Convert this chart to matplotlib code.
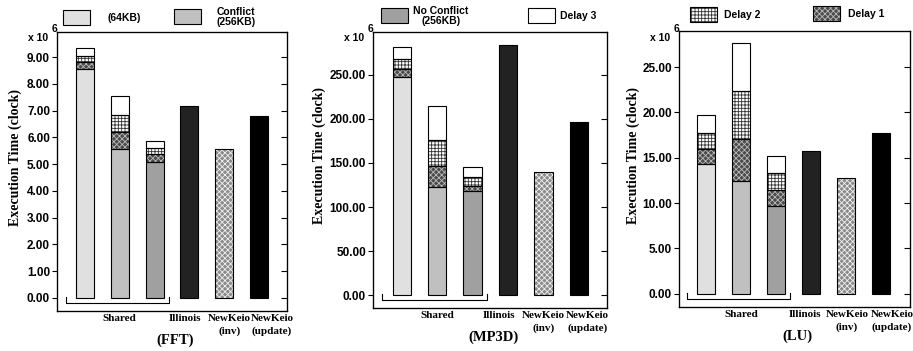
import numpy as np
import matplotlib
matplotlib.use('Agg')
import matplotlib.pyplot as plt
import matplotlib.transforms as mtrans
from matplotlib.patches import Rectangle

# data (x 10^6 clocks); shared bars are stacked: base + delay1 + delay2 + delay3
shared_names = ['(64KB)', 'Conflict\n(256KB)', 'No Conflict\n(256KB)']
other_names = ['Illinois', 'NewKeio\n(inv)', 'NewKeio\n(update)']
titles = ['(FFT)', '(MP3D)', '(LU)']

fft_base = [8.55, 5.56, 5.07]
fft_d1 = [0.27, 0.63, 0.30]
fft_d2 = [0.22, 0.64, 0.23]
fft_d3 = [0.31, 0.73, 0.28]
fft_other = [7.19, 5.56, 6.80]

mp3d_base = [246.9, 122.3, 118.6]
mp3d_d1 = [9.5, 24.6, 5.3]
mp3d_d2 = [11.3, 29.4, 10.5]
mp3d_d3 = [13.6, 37.7, 10.6]
mp3d_other = [283.9, 139.7, 196.7]

lu_base = [14.27, 12.39, 9.69]
lu_d1 = [1.69, 4.68, 1.70]
lu_d2 = [1.74, 5.31, 1.95]
lu_d3 = [2.02, 5.27, 1.88]
lu_other = [15.77, 12.72, 17.77]

W, H = 913, 351
fig = plt.figure(figsize=(W/100, H/100), dpi=100)
plt.rcParams['hatch.linewidth'] = 0.6

serif = 'Liberation Serif'
sans = 'Liberation Sans'

base_cols = ['#e0e0e0', '#c0c0c0', '#a0a0a0']
other_style = [dict(fc='#222222', hatch=None, hc=None),
               dict(fc='#8a8a8a', hatch='xxxxxx', hc='#f0f0f0'),
               dict(fc='#000000', hatch=None, hc=None)]
d_style = [dict(fc='#4a4a4a', hatch='xxxxxx', hc='#bbbbbb'),   # delay 1
           dict(fc='white', hatch='+++++', hc='#333333'),      # delay 2
           dict(fc='white', hatch=None, hc=None)]              # delay 3


def hbar(ax, x, h, bottom, fc, hatch, hc, wid=0.52):
    if hatch:
        ax.bar(x, h, wid, bottom=bottom, color=fc, hatch=hatch, edgecolor=hc, linewidth=0, zorder=3)
    else:
        ax.bar(x, h, wid, bottom=bottom, color=fc, linewidth=0, zorder=3)
    ax.bar(x, h, wid, bottom=bottom, fill=False, edgecolor='black', linewidth=0.8, zorder=4)


def px(x, y):
    return x / W, 1 - y / H


panels = [
    dict(base=fft_base, d=[fft_d1, fft_d2, fft_d3], other=fft_other,
         box=(57, 32, 287, 311), ylim=(-0.49, 9.94), ticks=np.arange(0, 10, 1), ylab_x=15,
         xl=(-0.8, 5.8), labx=[2.87, 4.14, 5.37]),
    dict(base=mp3d_base, d=[mp3d_d1, mp3d_d2, mp3d_d3], other=mp3d_other,
         box=(373, 32, 607, 308), ylim=(-14.3, 298.3), ticks=np.arange(0, 300, 50), ylab_x=319,
         xl=(-0.81, 5.79), labx=[2.75, 4.0, 5.24]),
    dict(base=lu_base, d=[lu_d1, lu_d2, lu_d3], other=lu_other,
         box=(679, 31, 910, 307), ylim=(-1.48, 29.0), ticks=np.arange(0, 30, 5), ylab_x=633,
         xl=(-0.78, 5.84), labx=[2.84, 4.03, 5.32]),
]

for i, pnl in enumerate(panels):
    l, t, r, b = pnl['box']
    ax = fig.add_axes([l/W, 1-b/H, (r-l)/W, (b-t)/H])
    for j in range(3):
        bottom = pnl['base'][j]
        hbar(ax, j, pnl['base'][j], 0, base_cols[j], None, None)
        for k in range(3):
            h = pnl['d'][k][j]
            hbar(ax, j, h, bottom, **d_style[k])
            bottom += h
    for j in range(3):
        hbar(ax, 3 + j, pnl['other'][j], 0, **other_style[j])

    ax.set_xlim(*pnl['xl'])
    ax.set_ylim(*pnl['ylim'])
    ax.set_xticks([])
    ax.set_yticks(pnl['ticks'])
    ax.set_yticklabels(['%.2f' % v for v in pnl['ticks']], fontfamily=sans, fontweight='bold', fontsize=8.5)
    ax.tick_params(axis='y', direction='out', length=3.5, width=0.8, pad=1.5)
    for s in ax.spines.values():
        s.set_linewidth(0.9)
    ax2 = ax.twinx()
    ax2.set_ylim(*pnl['ylim'])
    ax2.set_yticks(pnl['ticks'])
    ax2.set_yticklabels([])
    ax2.tick_params(axis='y', direction='in', length=4, width=0.8)

    # bracket under shared bars
    tr = mtrans.blended_transform_factory(ax.transData, ax.transAxes)
    ax.plot([-0.55, -0.55, 2.41, 2.41], [0.051, 0.0276, 0.0276, 0.051], color='black',
            lw=0.8, transform=tr, clip_on=False)
    lab = dict(fontfamily=serif, fontweight='bold', fontsize=8, ha='center', va='top',
               transform=tr, linespacing=1.45)
    ax.text(1, -0.01, 'Shared', **lab)
    for j, nm in enumerate(other_names):
        ax.text(pnl['labx'][j], -0.01, nm, **lab)
    ax.text(2.6, -0.082, titles[i], fontfamily=serif, fontweight='bold', fontsize=10.5,
            ha='center', va='top', transform=tr)

    # y label and multiplier
    fig.text(pnl['ylab_x']/W, 1 - ((t + b) / 2 - 14)/H, 'Execution Time (clock)', rotation=90,
             fontfamily=serif, fontweight='bold', fontsize=10, ha='center', va='center')
    fig.text((l - 29)/W, 1 - 38/H, 'x 10', fontfamily=sans, fontweight='bold', fontsize=7.5,
             ha='left', va='center')
    fig.text((l - 5)/W, 1 - 29/H, '6', fontfamily=sans, fontweight='bold', fontsize=7.5,
             ha='left', va='center')

# legend across the top
leg_items = [
    (63, 10, base_cols[0], None, None, shared_names[0], 124, 'center'),
    (174, 9, base_cols[1], None, None, shared_names[1], 236, 'center'),
    (381, 8, base_cols[2], None, None, shared_names[2], 441, 'center'),
    (528, 8, 'white', None, None, 'Delay 3', 560, 'left'),
    (690, 7, d_style[1]['fc'], d_style[1]['hatch'], d_style[1]['hc'], 'Delay 2', 724, 'left'),
    (813, 6, d_style[0]['fc'], d_style[0]['hatch'], d_style[0]['hc'], 'Delay 1', 848, 'left'),
]
for x0, y0, fc, hatch, hc, txt, tx, ha in leg_items:
    fx, fy = px(x0, y0 + 15)
    if hatch:
        fig.patches.append(Rectangle((fx, fy), 27/W, 15/H, transform=fig.transFigure,
                                     facecolor=fc, hatch=hatch, edgecolor=hc, linewidth=0))
    fig.patches.append(Rectangle((fx, fy), 27/W, 15/H, transform=fig.transFigure,
                                 facecolor=fc if not hatch else 'none', edgecolor='black', linewidth=0.8))
    fig.text(tx/W, 1 - (y0 + 8)/H, txt, fontfamily=sans, fontweight='bold', fontsize=7.5,
             ha=ha, va='center', linespacing=0.95)

fig.savefig('out.png', dpi=100)
